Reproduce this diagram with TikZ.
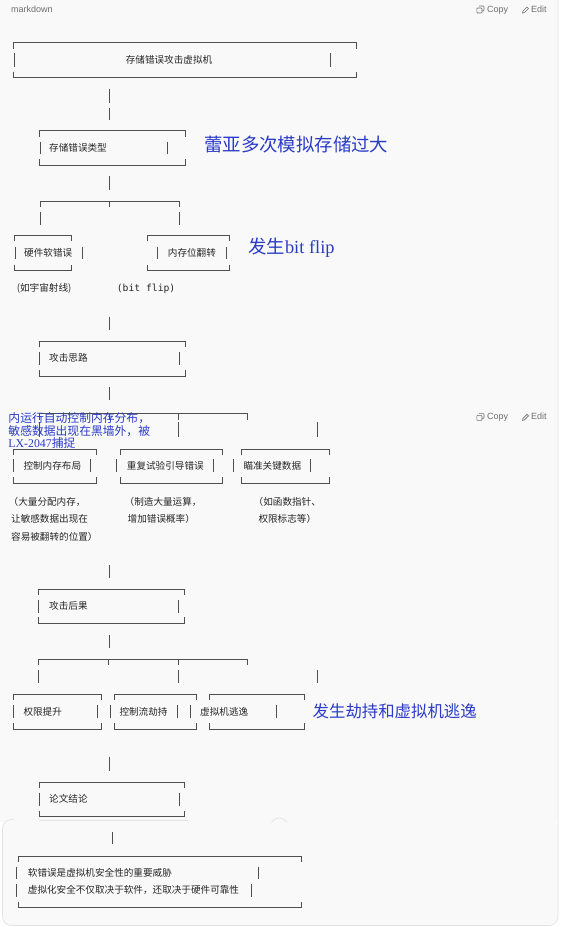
\documentclass[tikz,border=0pt]{standalone}
\usepackage{fontspec}
\setmainfont{Liberation Serif}
\newfontfamily\cjk{Noto Sans CJK SC}
\newfontfamily\uifont{Liberation Sans}
\newfontfamily\codefont{DejaVu Sans Mono}
\usepackage{xcolor}
\usepackage{tikz}
\definecolor{MDPanel}{HTML}{F9F9F9}
\definecolor{MDBorder}{HTML}{E4E4E4}
\definecolor{MDLine}{HTML}{4F4F4F}
\definecolor{MDText}{HTML}{262626}
\definecolor{MDUi}{HTML}{6E6E6E}
\definecolor{NoteBlue}{HTML}{2A3BC8}

\begin{document}
\begin{tikzpicture}[x=1pt,y=-1pt,
  boxline/.style={draw=MDLine,line width=0.8pt},
  barline/.style={draw=MDLine,line width=0.9pt},
  artlabel/.style={anchor=base west,inner sep=0pt,text=MDText,font=\cjk\fontsize{9.6}{11}\selectfont},
  notelabel/.style={anchor=base west,inner sep=0pt,text=NoteBlue},
  uilabel/.style={anchor=base west,inner sep=0pt,text=MDUi,font=\uifont\fontsize{9}{11}\selectfont}]
\path[use as bounding box] (0,0) rectangle (560,927);
\fill[white] (0,0) rectangle (560,927);
\fill[MDPanel] (0,0) rectangle (558,822);
\fill[MDPanel,rounded corners=9pt] (2.5,819.5) rectangle (558,925.5);
\draw[MDBorder,line width=0.7pt,rounded corners=9pt] (14,819.5) -- (2.5,819.5) -- (2.5,925.5) -- (558,925.5) -- (558,0);
\draw[MDBorder,line width=0.7pt] (271.5,822.5) arc[start angle=210,end angle=330,radius=9];
\draw[MDBorder,line width=0.8pt] (39,820.7) -- (188,820.7);

\node[uilabel] (mdlabel) at (11,12.3) {markdown};
\draw[MDUi,line width=0.6pt,rounded corners=0.8pt] (479,6) -- (484,6) -- (484,11) -- (482,11);
\draw[MDUi,line width=0.6pt,rounded corners=0.8pt] (476.8,8) rectangle (482,13);
\node[uilabel] (copytop) at (487,12.3) {Copy};
\draw[MDUi,line width=0.6pt] (522.5,13) -- (523,11) -- (527,7) -- (528.5,8.5) -- (524.5,12.5) -- cycle;
\node[uilabel] (edittop) at (531,12.3) {Edit};
\draw[MDUi,line width=0.6pt,rounded corners=0.8pt] (479,413.4) -- (484,413.4) -- (484,418.4) -- (482,418.4);
\draw[MDUi,line width=0.6pt,rounded corners=0.8pt] (476.8,415.4) rectangle (482,420.4);
\node[uilabel] (copymid) at (487,419.7) {Copy};
\draw[MDUi,line width=0.6pt] (522.5,420.4) -- (523,418.4) -- (527,414.4) -- (528.5,415.9) -- (524.5,419.9) -- cycle;
\node[uilabel] (editmid) at (531,419.7) {Edit};

\draw[boxline] (13.6,48.7) -- (13.6,42.7) -- (356,42.7) -- (356,48.7);
\draw[boxline] (13.6,71.7) -- (13.6,77.7) -- (356,77.7) -- (356,71.7);
\draw[barline] (14.3,53.3) -- (14.3,66.7);
\draw[barline] (330,53.3) -- (330,66.7);
\node[artlabel,anchor=base] (vmattack) at (169,63.6) {存储错误攻击虚拟机};
\draw[barline] (109,88.5) -- (109,103);
\draw[barline] (109,108) -- (109,119.5);

\draw[boxline] (39.3,136.7) -- (39.3,130.7) -- (185,130.7) -- (185,136.7);
\draw[boxline] (39.3,159.3) -- (39.3,165.3) -- (185,165.3) -- (185,159.3);
\draw[barline] (40,141.7) -- (40,154);
\draw[barline] (167.7,141.7) -- (167.7,154);
\node[artlabel] (errtypes) at (49,151.3) {存储错误类型};
\node[notelabel,font=\cjk\fontsize{18.4}{20}\selectfont] (notestore) at (204,151.3) {蕾亚多次模拟存储过大};
\draw[barline] (109,176) -- (109,190);

\draw[boxline] (40,207.3) -- (40,201.3) -- (179,201.3) -- (179,207.3);
\draw[boxline] (109,201.3) -- (109,207.3);
\draw[barline] (40,211.7) -- (40,225);
\draw[barline] (179,211.7) -- (179,225);

\draw[boxline] (14,241.3) -- (14,235.3) -- (71.7,235.3) -- (71.7,241.3);
\draw[boxline] (14,264.7) -- (14,270.7) -- (71.7,270.7) -- (71.7,264.7);
\draw[barline] (15,246.7) -- (15,259);
\draw[barline] (82.3,246.7) -- (82.3,259);
\node[artlabel] (softerr) at (24,256.3) {硬件软错误};
\draw[boxline] (147,241.3) -- (147,235.3) -- (229.3,235.3) -- (229.3,241.3);
\draw[boxline] (147,264.7) -- (147,270.7) -- (229.3,270.7) -- (229.3,264.7);
\draw[barline] (157.7,246.7) -- (157.7,259);
\draw[barline] (226,246.7) -- (226,259);
\node[artlabel] (bitflip) at (167.7,256.3) {内存位翻转};
\node[notelabel,font=\fontsize{18.4}{20}\selectfont] (noteflip) at (248,253.7) {{\cjk 发生}bit flip};
\node[artlabel] (softnote) at (16.7,291.9) {(如宇宙射线)};
\node[artlabel,font=\codefont\fontsize{9.7}{11}\selectfont] (flipnote) at (116.7,291.9) {(bit flip)};
\draw[barline] (109,316.7) -- (109,330);

\draw[boxline] (39.3,347.3) -- (39.3,341.3) -- (185,341.3) -- (185,347.3);
\draw[boxline] (39.3,370) -- (39.3,376) -- (185,376) -- (185,370);
\draw[barline] (39.3,352) -- (39.3,365);
\draw[barline] (179.6,352) -- (179.6,365);
\node[artlabel] (idea) at (49,361.9) {攻击思路};
\draw[barline] (109,387.3) -- (109,400);

\draw[boxline] (39,419.7) -- (39,413.7) -- (247,413.7) -- (247,419.7);
\draw[boxline] (109,413.7) -- (109,419.7);
\draw[boxline] (178,413.7) -- (178,419.7);
\draw[barline] (39,422) -- (39,436.5);
\draw[barline] (178,422) -- (178,436.5);
\draw[barline] (317,422) -- (317,436.5);

\draw[boxline] (13.3,455.3) -- (13.3,449.3) -- (96.7,449.3) -- (96.7,455.3);
\draw[boxline] (13.3,477.3) -- (13.3,483.3) -- (96.7,483.3) -- (96.7,477.3);
\draw[barline] (13.3,459) -- (13.3,472);
\draw[barline] (90.7,459) -- (90.7,472);
\node[artlabel] (layout) at (23.3,469.3) {控制内存布局};
\draw[boxline] (120.7,455.3) -- (120.7,449.3) -- (222.3,449.3) -- (222.3,455.3);
\draw[boxline] (120.7,477.3) -- (120.7,483.3) -- (222.3,483.3) -- (222.3,477.3);
\draw[barline] (116.7,459) -- (116.7,472);
\draw[barline] (213.3,459) -- (213.3,472);
\node[artlabel] (retry) at (126.7,469.3) {重复试验引导错误};
\draw[boxline] (241.3,455.3) -- (241.3,449.3) -- (329.3,449.3) -- (329.3,455.3);
\draw[boxline] (241.3,477.3) -- (241.3,483.3) -- (329.3,483.3) -- (329.3,477.3);
\draw[barline] (233.3,459) -- (233.3,472);
\draw[barline] (310.7,459) -- (310.7,472);
\node[artlabel] (target) at (243.3,469.3) {瞄准关键数据};

\node[artlabel] (layoutnotea) at (8.5,505.3) {（大量分配内存，};
\node[artlabel] (layoutnoteb) at (11,522.9) {让敏感数据出现在};
\node[artlabel] (layoutnotec) at (11,540.3) {容易被翻转的位置）};
\node[artlabel] (retrynotea) at (124.5,505.3) {（制造大量运算，};
\node[artlabel] (retrynoteb) at (127.5,522.9) {增加错误概率）};
\node[artlabel] (targetnotea) at (253.5,505.3) {（如函数指针、};
\node[artlabel] (targetnoteb) at (258.3,522.9) {权限标志等）};

\node[notelabel,font=\fontsize{11.8}{12}\selectfont] (notelxa) at (8.3,422.8) {{\cjk 内运行自动控制内存分布，}};
\node[notelabel,font=\fontsize{11.8}{12}\selectfont] (notelxb) at (8.3,435.2) {{\cjk 敏感数据出现在黑墙外，被}};
\node[notelabel,font=\fontsize{11.8}{12}\selectfont] (notelxc) at (8.3,447.2) {LX-2047{\cjk 捕捉}};
\draw[barline] (109,565) -- (109,578);

\draw[boxline] (38.6,595) -- (38.6,589) -- (184.3,589) -- (184.3,595);
\draw[boxline] (38.6,617.3) -- (38.6,623.3) -- (184.3,623.3) -- (184.3,617.3);
\draw[barline] (38.6,599.5) -- (38.6,612.5);
\draw[barline] (178.6,599.5) -- (178.6,612.5);
\node[artlabel] (impact) at (49,609.6) {攻击后果};
\draw[barline] (109,635) -- (109,648.3);

\draw[boxline] (38.6,665) -- (38.6,659) -- (247,659) -- (247,665);
\draw[boxline] (108,659) -- (108,665);
\draw[boxline] (178,659) -- (178,665);
\draw[barline] (38.6,670) -- (38.6,683.3);
\draw[barline] (178,670) -- (178,683.3);
\draw[barline] (317,670) -- (317,683.3);

\draw[boxline] (13.3,700.3) -- (13.3,694.3) -- (101.7,694.3) -- (101.7,700.3);
\draw[boxline] (13.3,723) -- (13.3,729) -- (101.7,729) -- (101.7,723);
\draw[barline] (13.3,705) -- (13.3,718.3);
\draw[barline] (97.3,705) -- (97.3,718.3);
\node[artlabel] (privesc) at (23.3,715.3) {权限提升};
\draw[boxline] (114.3,700.3) -- (114.3,694.3) -- (196.7,694.3) -- (196.7,700.3);
\draw[boxline] (114.3,723) -- (114.3,729) -- (196.7,729) -- (196.7,723);
\draw[barline] (110,705) -- (110,718.3);
\draw[barline] (177.7,705) -- (177.7,718.3);
\node[artlabel] (cfhijack) at (119.3,715.3) {控制流劫持};
\draw[boxline] (209.3,700.3) -- (209.3,694.3) -- (304.3,694.3) -- (304.3,700.3);
\draw[boxline] (209.3,723) -- (209.3,729) -- (304.3,729) -- (304.3,723);
\draw[barline] (190.7,705) -- (190.7,718.3);
\draw[barline] (276.7,705) -- (276.7,718.3);
\node[artlabel] (vmescape) at (200,715.3) {虚拟机逃逸};
\node[notelabel,font=\cjk\fontsize{16.4}{18}\selectfont] (noteescape) at (312.5,717.9) {发生劫持和虚拟机逃逸};
\draw[barline] (109,756.7) -- (109,770.7);

\draw[boxline] (39,788.3) -- (39,782.3) -- (184.3,782.3) -- (184.3,788.3);
\draw[boxline] (39,810.7) -- (39,816.7) -- (184.3,816.7) -- (184.3,810.7);
\draw[barline] (39,792.5) -- (39,805.5);
\draw[barline] (179.3,792.5) -- (179.3,805.5);
\node[artlabel] (conclusion) at (49,802.9) {论文结论};
\draw[barline] (112.5,831.7) -- (112.5,844.3);

\draw[boxline] (17.9,862) -- (17.9,856) -- (301,856) -- (301,862);
\draw[boxline] (17.9,901.5) -- (17.9,907.5) -- (301,907.5) -- (301,901.5);
\draw[barline] (16.7,866.5) -- (16.7,879);
\draw[barline] (258.2,866.5) -- (258.2,879);
\draw[barline] (16.7,884) -- (16.7,896.5);
\draw[barline] (251.8,884) -- (251.8,896.5);
\node[artlabel] (conclusiona) at (27.7,876.3) {软错误是虚拟机安全性的重要威胁};
\node[artlabel] (conclusionb) at (27.7,893.6) {虚拟化安全不仅取决于软件，还取决于硬件可靠性};
\end{tikzpicture}
\end{document}
